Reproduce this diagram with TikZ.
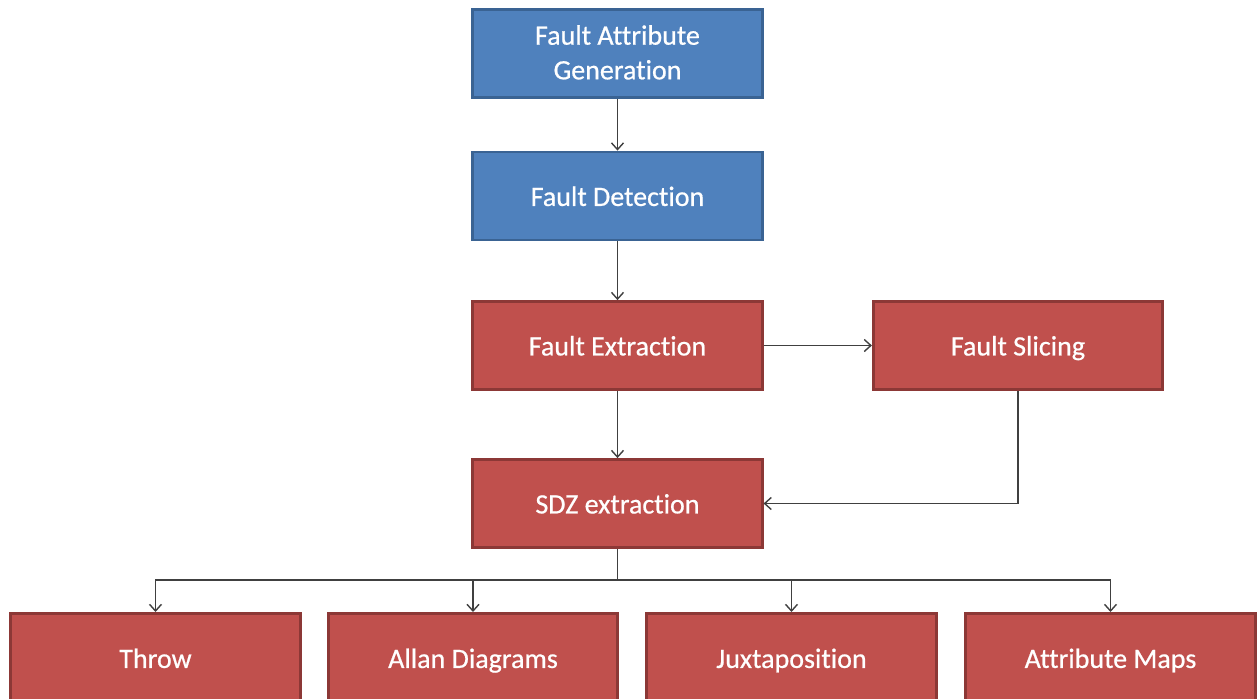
\documentclass[tikz,border=0pt]{standalone}
\usepackage{fontspec}
\setmainfont{Carlito}[Ligatures=NoCommon,FakeBold=0.6]
\usetikzlibrary{arrows.meta}
\definecolor{bluefill}{HTML}{4F81BD}
\definecolor{blueline}{HTML}{3A6393}
\definecolor{redfill}{HTML}{C0504D}
\definecolor{redline}{HTML}{8C3836}
\definecolor{conn}{HTML}{404040}
\begin{document}
\begin{tikzpicture}[x=0.75pt,y=-0.75pt,
  boxbase/.style={rectangle,minimum width=217pt,minimum height=66pt,inner sep=0pt,
    line width=2.1pt,text=white,align=center,font=\fontsize{21}{26}\selectfont\strut},
  bluebox/.style={boxbase,fill=bluefill,draw=blueline},
  redbox/.style={boxbase,fill=redfill,draw=redline},
  lbl/.style={text=white,font=\fontsize{21}{26}\selectfont\strut},
  conn/.style={draw=conn,line width=1.05pt,-{Straight Barb[length=5pt,width=9pt,line width=1.05pt]}},
  plain/.style={draw=conn,line width=1.05pt}]
\useasboundingbox (0,0) rectangle (1257,699);
\clip (0,0) rectangle (1257,699);
\fill[white] (0,0) rectangle (1257,699);
\node[bluebox] (gen) at (617.5,53.5) {};
\node[lbl,align=center] (gent) at (617.5,57.5) {Fault Attribute\\Generation};
\node[bluebox] (det) at (617.5,196) {};
\node[lbl] (dett) at (617.5,199) {Fault Detection};
\node[redbox] (ext) at (617.5,345.5) {};
\node[lbl] (extt) at (617.5,348.5) {Fault Extraction};
\node[redbox] (sli) at (1018,345.5) {};
\node[lbl] (slit) at (1018,348.5) {Fault Slicing};
\node[redbox] (sdz) at (617.5,503.5) {};
\node[lbl] (sdzt) at (617.5,506.5) {SDZ extraction};
\node[redbox,anchor=north] (thr) at (155.5,612) {};
\node[redbox,anchor=north] (all) at (473,612) {};
\node[redbox,anchor=north] (jux) at (791.5,612) {};
\node[redbox,anchor=north] (att) at (1110.5,612) {};
\node[lbl] (thrt) at (155.5,661) {Throw};
\node[lbl] (allt) at (473,661) {Allan Diagrams};
\node[lbl] (juxt) at (791.5,661) {Juxtaposition};
\node[lbl] (attt) at (1110.5,661) {Attribute Maps};
\coordinate (hub) at (617.5,580);
\draw[conn] (gen) -- (det);
\draw[conn] (det) -- (ext);
\draw[conn] (ext) -- (sli);
\draw[conn] (ext) -- (sdz);
\draw[conn] (sli.south) |- (sdz.east);
\draw[plain] (sdz.south) -- (hub);
\draw[conn] (hub) -| (thr.north);
\draw[conn] (hub) -| (all.north);
\draw[conn] (hub) -| (jux.north);
\draw[conn] (hub) -| (att.north);
\end{tikzpicture}
\end{document}
